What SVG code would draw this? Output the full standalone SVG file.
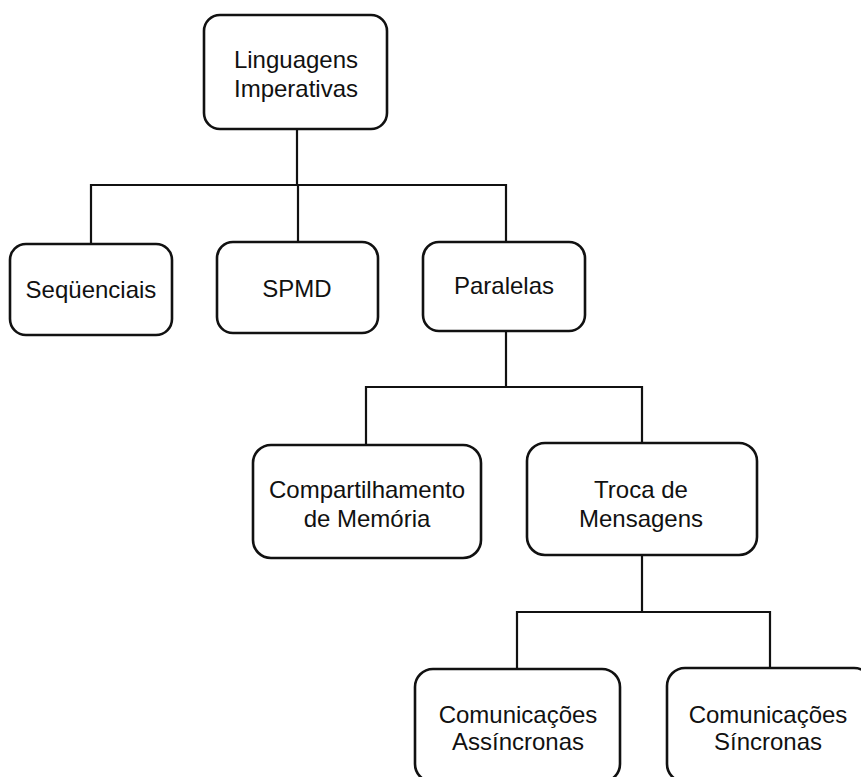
<svg xmlns="http://www.w3.org/2000/svg" width="861" height="777" viewBox="0 0 861 777">
  <style>
    .box { fill: #ffffff; stroke: #111111; stroke-width: 2.6; }
    .link { fill: none; stroke: #111111; stroke-width: 2.2; stroke-linejoin: miter; }
    .label { font-family: "Liberation Sans", Arial, Helvetica, sans-serif; font-size: 24px; fill: #111111; text-anchor: middle; }
  </style>
  <rect width="861" height="777" fill="#ffffff"/>

  <!-- tree connectors -->
  <g id="connectors">
    <path class="link" d="M297 129 V185"/>
    <path class="link" d="M91 244 V185 H506 V242"/>
    <path class="link" d="M298 185 V242"/>
    <path class="link" d="M506 331 V387"/>
    <path class="link" d="M366 445 V387 H642 V443"/>
    <path class="link" d="M642 555 V612"/>
    <path class="link" d="M517 669 V612 H770 V668"/>
  </g>

  <g id="node-imperativas">
    <rect class="box" x="204" y="15" width="183" height="114" rx="16"/>
    <text class="label" x="296" y="68">Linguagens</text>
    <text class="label" x="296" y="97">Imperativas</text>
  </g>

  <g id="node-sequenciais">
    <rect class="box" x="10" y="244" width="162" height="91" rx="16"/>
    <text class="label" x="91" y="298">Seqüenciais</text>
  </g>

  <g id="node-spmd">
    <rect class="box" x="217" y="242" width="161" height="91" rx="16"/>
    <text class="label" x="297" y="297">SPMD</text>
  </g>

  <g id="node-paralelas">
    <rect class="box" x="423" y="242" width="162" height="89" rx="16"/>
    <text class="label" x="504" y="294">Paralelas</text>
  </g>

  <g id="node-compartilhamento">
    <rect class="box" x="253" y="445" width="228" height="113" rx="18"/>
    <text class="label" x="367" y="498">Compartilhamento</text>
    <text class="label" x="367" y="527">de Memória</text>
  </g>

  <g id="node-troca">
    <rect class="box" x="527" y="443" width="230" height="112" rx="18"/>
    <text class="label" x="641" y="498">Troca de</text>
    <text class="label" x="641" y="527">Mensagens</text>
  </g>

  <g id="node-assincronas">
    <rect class="box" x="415" y="669" width="205" height="113" rx="18"/>
    <text class="label" x="518" y="723">Comunicações</text>
    <text class="label" x="518" y="750">Assíncronas</text>
  </g>

  <g id="node-sincronas">
    <rect class="box" x="667" y="668" width="205" height="114" rx="18"/>
    <text class="label" x="768" y="723">Comunicações</text>
    <text class="label" x="768" y="750">Síncronas</text>
  </g>
</svg>
